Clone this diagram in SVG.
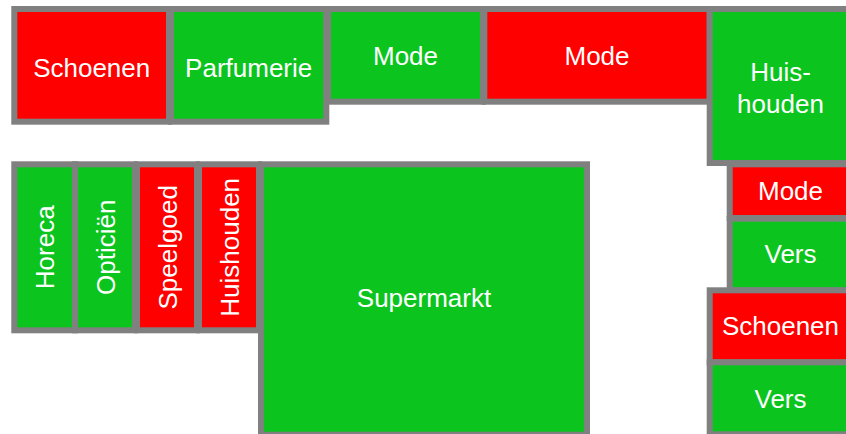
<svg xmlns="http://www.w3.org/2000/svg" width="846" height="434" viewBox="0 0 846 434">
<style>
.cell{stroke:#808080;stroke-width:6}
.r{fill:#FF0000}
.g{fill:#0BC41E}
text{font-family:"Liberation Sans",Arial,sans-serif;font-size:26px;fill:#FFFFFF;text-anchor:middle}
</style>
<rect x="0" y="0" width="846" height="434" fill="#FFFFFF"/>
<g id="schoenen-1"><rect class="cell r" x="14.3" y="9" width="154.7" height="112.7"/><text x="91.7" y="76.7">Schoenen</text></g>
<g id="parfumerie"><rect class="cell g" x="171" y="9" width="155.3" height="112.7"/><text x="248.7" y="76.7">Parfumerie</text></g>
<g id="mode-1"><rect class="cell g" x="328" y="9" width="155" height="92.7"/><text x="405.5" y="65">Mode</text></g>
<g id="mode-2"><rect class="cell r" x="484.3" y="9" width="225.4" height="92.7"/><text x="597" y="65">Mode</text></g>
<g id="huishouden-1"><rect class="cell g" x="709.7" y="9" width="141.6" height="154"/><text x="780.5" y="80.7">Huis-</text><text x="780.5" y="112.7">houden</text></g>
<g id="mode-3"><rect class="cell r" x="729.7" y="164.3" width="121.6" height="53.7"/><text x="790.5" y="200">Mode</text></g>
<g id="vers-1"><rect class="cell g" x="729.7" y="218.7" width="121.6" height="71.6"/><text x="790.5" y="263.3">Vers</text></g>
<g id="schoenen-2"><rect class="cell r" x="709.7" y="290.3" width="141.6" height="72"/><text x="780.5" y="335">Schoenen</text></g>
<g id="vers-2"><rect class="cell g" x="709.7" y="362.3" width="141.6" height="72"/><text x="780.5" y="408.3">Vers</text></g>
<g id="horeca"><rect class="cell g" x="14.3" y="164.3" width="60.7" height="166"/><text transform="translate(54.2,247.3) rotate(-90)">Horeca</text></g>
<g id="opticien"><rect class="cell g" x="75" y="164.3" width="60" height="166"/><text transform="translate(114.5,247.3) rotate(-90)">Opticiën</text></g>
<g id="speelgoed"><rect class="cell r" x="137" y="164.3" width="60" height="166"/><text transform="translate(176.5,247.3) rotate(-90)">Speelgoed</text></g>
<g id="huishouden-2"><rect class="cell r" x="199" y="164.3" width="60" height="166"/><text transform="translate(238.5,247.3) rotate(-90)">Huishouden</text></g>
<g id="supermarkt"><rect class="cell g" x="261" y="164.3" width="326" height="270.4"/><text x="424" y="307.3">Supermarkt</text></g>
<g id="connectors"></g>
</svg>
